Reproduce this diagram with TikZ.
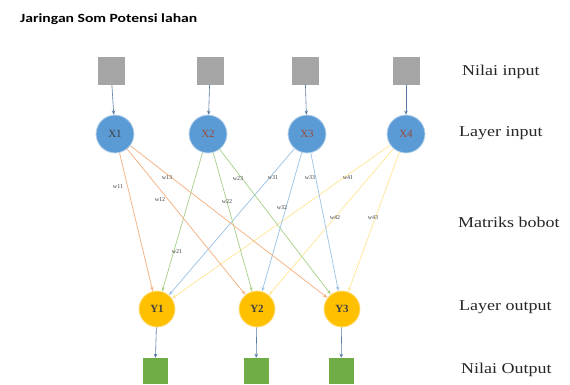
\documentclass[tikz,border=0pt]{standalone}
\usepackage{fontspec}
\setmainfont{Liberation Serif}
\newfontfamily\titlefont{Carlito}
\usetikzlibrary{arrows.meta}
\definecolor{sqgray}{HTML}{A5A5A5}
\definecolor{inblue}{HTML}{5B9BD5}
\definecolor{outyel}{HTML}{FFC000}
\definecolor{outgrn}{HTML}{70AD47}
\definecolor{cA}{HTML}{F4B183}
\definecolor{cB}{HTML}{A9D18E}
\definecolor{cC}{HTML}{9DC3E6}
\definecolor{cD}{HTML}{FFE699}
\definecolor{arr}{HTML}{5A7BA6}
\definecolor{txtdark}{HTML}{404040}
\definecolor{txtred}{HTML}{9A4A3A}
\begin{document}
\begin{tikzpicture}[x=1pt,y=-1pt,
  graysq/.style={draw=none,fill=sqgray,minimum width=27pt,minimum height=28pt,inner sep=0pt},
  grnsq/.style={draw=none,fill=outgrn,minimum width=25pt,minimum height=26pt,inner sep=0pt},
  incirc/.style={circle,fill=inblue,draw=inblue!40,line width=0.8pt,minimum size=38pt,inner sep=0pt,font=\fontsize{11}{12}\selectfont,text=txtred},
  outcirc/.style={circle,fill=outyel,draw=outyel!50,line width=0.8pt,minimum size=36pt,inner sep=0pt,font=\fontsize{11}{12}\selectfont\bfseries,text=txtdark},
  feed/.style={draw=arr,line width=0.6pt,-{Stealth[length=4pt,width=3.5pt]}},
  wire/.style={line width=0.75pt,-{Stealth[length=4.5pt,width=3.5pt]}},
  wlab/.style={font=\fontsize{6}{7}\selectfont,text=txtdark,inner sep=0pt},
  sidelab/.style={anchor=west,inner sep=0pt,font=\fontsize{15}{18}\selectfont,text=black!85}
]
\useasboundingbox (0,0) rectangle (570,384);
\node[anchor=west,inner sep=0pt] (title) at (20,19) {\scalebox{1.25}[1]{\titlefont\bfseries\fontsize{12.5}{14}\selectfont Jaringan Som Potensi lahan}};

\node[graysq] (s1) at (111,71) {};
\node[graysq] (s2) at (210,71) {};
\node[graysq] (s3) at (305,71) {};
\node[graysq] (s4) at (406,71) {};

\node[incirc,text=txtdark] (x1) at (115,134) {X1};
\node[incirc] (x2) at (208,134) {X2};
\node[incirc] (x3) at (307,134) {X3};
\node[incirc] (x4) at (406,134) {X4};

\node[outcirc] (y1) at (157,309) {Y1};
\node[outcirc] (y2) at (257,309) {Y2};
\node[outcirc] (y3) at (342,309) {Y3};

\node[grnsq] (g1) at (155,371) {};
\node[grnsq] (g2) at (256,371) {};
\node[grnsq] (g3) at (341,371) {};

\foreach \i in {1,2,3,4} {\draw[feed] (s\i) -- (x\i);}
\foreach \i in {1,2,3} {\draw[feed] (y\i) -- (g\i);}

\foreach \j in {1,2,3} {
  \draw[wire,draw=cA] (x1) -- (y\j);
  \draw[wire,draw=cB] (x2) -- (y\j);
  \draw[wire,draw=cC] (x3) -- (y\j);
  \draw[wire,draw=cD] (x4) -- (y\j);
}

\node[wlab] (w11) at (118,187) {w11};
\node[wlab] (w13) at (167,178) {w13};
\node[wlab] (w12) at (160,200) {w12};
\node[wlab] (w23) at (238,179) {w23};
\node[wlab] (w22) at (227,202) {w22};
\node[wlab] (w21) at (177,252) {w21};
\node[wlab] (w31) at (273,178) {w31};
\node[wlab] (w32) at (282,208) {w32};
\node[wlab] (w33) at (310,178) {w33};
\node[wlab] (w41) at (348,178) {w41};
\node[wlab] (w42) at (335,218) {w42};
\node[wlab] (w43) at (373,218) {w43};

\node[sidelab] (l1) at (462,72) {\scalebox{1.2}[1]{Nilai input}};
\node[sidelab] (l2) at (459,133) {\scalebox{1.2}[1]{Layer input}};
\node[sidelab] (l3) at (458,222) {\scalebox{1.2}[1]{Matriks bobot}};
\node[sidelab] (l4) at (459,307) {\scalebox{1.2}[1]{Layer output}};
\node[sidelab] (l5) at (461,370) {\scalebox{1.2}[1]{Nilai Output}};
\end{tikzpicture}
\end{document}
